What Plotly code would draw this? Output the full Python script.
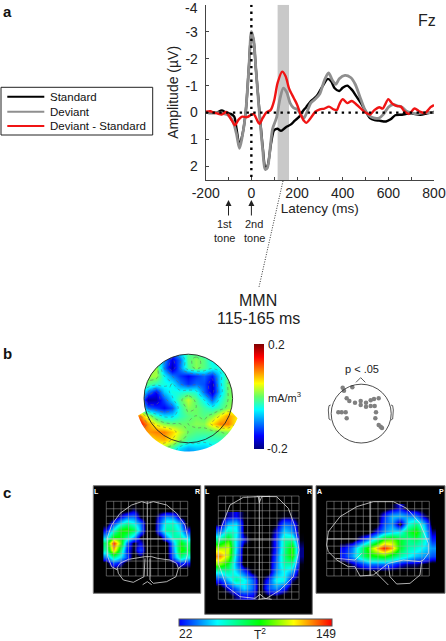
import numpy as np
import plotly.graph_objects as go

FONT = "Liberation Sans"
TXT = "#222222"

# ---------- ERP waveforms ----------
std_lat = [-200,-175,-150,-130,-110,-90,-75,-65,-52,-40,-25,-10,0,10,20,35,50,62,72,85,95,100,115,130,150,175,190,210,225,240,260,285,310,335,350,365,385,400,420,440,460,480,500,520,540,560,590,610,630,660,680,700,740,770,800]
std_amp = [0,0.02,0,-0.08,0,0.05,0.15,0.6,1.2,0.85,0,-1.8,-2.95,-2.65,-1.6,-0.1,1.3,2.1,1.95,1.2,0.75,0.65,0.6,0.68,0.55,0.43,0.3,0.15,-0.05,-0.2,-0.42,-0.6,-0.95,-1.25,-1.15,-0.9,-0.8,-0.92,-1.0,-0.85,-0.6,-0.35,-0.05,0.2,0.28,0.3,0.33,0.25,0.1,0.08,0.05,0.03,0.08,0.03,-0.02]
dev_lat = [-200,-150,-100,-80,-65,-52,-40,-25,-10,0,10,20,35,50,60,70,85,93,110,125,140,155,170,185,200,215,230,245,260,280,300,320,338,355,370,385,410,435,455,475,495,515,535,560,580,600,620,640,660,680,700,720,760,800]
dev_amp = [0,0,0.1,0.35,0.8,1.33,0.9,0,-1.8,-3.0,-2.7,-1.6,0,1.4,2.1,2.05,1.1,0.6,0.2,-0.5,-0.91,-0.75,-0.35,-0.17,-0.13,0.05,0.2,-0.05,-0.35,-0.5,-0.7,-1.2,-1.47,-1.2,-1.05,-1.25,-1.38,-1.3,-1.05,-0.6,-0.15,0.1,0.2,0.2,0.05,-0.2,-0.3,-0.25,-0.2,-0.05,0,0.05,0,0]
dif_lat = [-200,-180,-165,-150,-130,-110,-100,-85,-72,-55,-40,-20,0,10,25,35,50,65,85,100,115,135,150,165,185,200,215,230,240,260,280,300,320,340,360,375,385,400,420,440,460,480,500,520,540,560,575,600,615,635,655,670,690,715,735,760,785,800]
dif_amp = [-0.03,-0.05,0,0.03,0.07,-0.02,0.1,0.3,0.47,0.25,0.15,0.17,0.08,0.05,0.28,0.42,0.2,0,-0.1,-0.45,-1.1,-1.52,-1.35,-0.9,-0.55,-0.3,0.05,0.3,0.38,0.2,-0.03,-0.12,-0.15,-0.22,-0.12,-0.1,-0.3,-0.5,-0.35,-0.43,-0.3,-0.15,0,0.07,-0.1,-0.2,-0.15,-0.5,-0.35,-0.25,-0.22,-0.05,0.05,-0.15,-0.05,0.02,-0.2,-0.28]

x_ticks = [-200,-100,0,100,200,300,400,500,600,700,800]
x_labels = ["-200","","0","","200","","400","","600","","800"]
y_ticks = [-4,-3,-2,-1,0,1,2]
y_labels = ["","-3","-2","-1","0","1","2"]
y_top_label = "-4"
mmn_window = [115, 165]
legend_names = ["Standard","Deviant","Deviant - Standard"]

# ---------- LORETA scalp map (% of 0.2 mA/m3) ----------
topo_x = [140,148,156,164,172,180,188,196,204,212,220,228,236]
topo_y = [351.7,359.7,367.7,375.7,383.7,391.7,399.7,407.7,415.7,423.7,431.7,439.7,447.7,451]
topo_pct = [
 [-25,-25,-25,-40,-60,-25,-10,-10,-20,-25,-25,-20,-20],
 [-15,-15,-20,-45,-80,-55,-5,5,-5,-25,-25,-20,-15],
 [0,0,10,-50,-90,-50,-10,5,-5,-20,-20,-15,-5],
 [5,10,10,-25,-50,-65,-75,-65,-55,-70,-30,-5,5],
 [5,-5,-15,-20,-25,-50,-65,-55,-60,-85,-30,0,5],
 [-10,-50,-75,-35,-20,-20,-15,-20,-55,-85,-35,0,5],
 [-30,-95,-90,-60,-30,-5,15,-5,-25,-55,-20,0,5],
 [-20,-55,-65,-75,-60,-15,5,0,-10,-20,-10,5,10],
 [50,10,-15,-30,-30,-15,-5,0,-5,5,25,45,30],
 [75,45,20,5,0,0,0,5,5,30,50,50,25],
 [50,45,50,50,35,15,0,-5,-5,-5,0,5,0],
 [20,25,35,40,25,5,-10,-15,-20,-15,-15,-10,-10],
 [0,10,15,5,-10,-30,-40,-35,-35,-30,-25,-20,-20],
 [0,5,5,0,-15,-35,-45,-40,-40,-35,-30,-25,-25],
]
topo_z = (np.array(topo_pct) * 0.002).tolist()
topo_range = [-0.2, 0.2]

# significant electrodes (p < .05), positions read in 3x crop coordinates
sig_x = [668,697,672,680,688,705,722,722,738,738,752,762,776,752,764,768,766,776,782,786,655,665,677,680]
sig_y = [158,157,167,190,198,203,198,210,203,215,196,192,190,213,213,232,250,270,275,279,232,232,232,250]

# ---------- Brain T2 maps ----------
cor_x = [106.7,113.3,120,126.7,133.3,140,146.7,153.3,160,166.7,173.3,180,186.7]
cor_y = [503.3,510,516.7,523.3,530,536.7,543.3,550,556.7,563.3,570,576.7]
cor_z = [
 [0,0,0,0,0,0,0,0,0,0,0,0,0],
 [0,0,0,0,10,0,0,0,0,0,0,0,0],
 [0,0,15,28,30,5,0,0,20,35,30,5,0],
 [0,20,45,60,50,30,0,0,30,55,55,35,0],
 [15,50,85,90,75,35,0,0,35,62,62,45,15],
 [40,85,85,65,40,5,0,0,5,35,60,60,40],
 [70,145,95,30,5,15,0,0,0,0,40,85,65],
 [60,125,70,20,5,25,0,0,0,0,35,90,75],
 [30,65,45,25,0,5,0,0,0,0,30,65,50],
 [0,25,15,0,0,0,0,0,0,0,5,20,15],
 [0,0,0,0,0,0,0,0,0,0,0,0,0],
 [0,0,0,0,0,0,0,0,0,0,0,0,0],
]
axi_x = [220,228,236,244,252,260,268,276,284,292,300]
axi_y = [516,524,532,540,548,556,564,572,580,588,596]
axi_z = [
 [0,10,15,5,0,0,0,0,5,5,0],
 [5,40,45,5,0,0,0,5,30,25,0],
 [30,60,50,5,0,0,0,15,45,35,0],
 [65,90,45,15,0,0,0,20,60,65,5],
 [105,110,45,0,0,0,0,20,62,92,10],
 [130,105,40,0,0,0,0,25,65,90,10],
 [100,80,35,0,0,0,0,30,60,60,5],
 [50,60,45,25,5,0,0,35,50,35,0],
 [20,40,62,50,30,0,20,50,50,10,0],
 [0,15,30,45,30,0,25,35,20,0,0],
 [0,0,10,15,15,0,5,5,0,0,0],
]
sag_x = [344,352,360,368,376,384,392,400,408,416,424,432]
sag_y = [508,516,524,532,540,548,556,564,572]
sag_z = [
 [0,0,0,0,0,0,5,15,0,0,0,0],
 [0,0,0,0,0,20,40,40,35,30,10,0],
 [0,0,0,0,0,25,35,0,50,65,40,0],
 [0,0,0,0,15,35,45,50,75,90,50,10],
 [0,0,15,35,60,95,100,80,65,70,55,20],
 [15,30,60,90,120,145,125,80,60,55,45,35],
 [20,35,60,80,85,90,75,60,50,40,35,25],
 [0,10,20,30,30,30,25,15,10,10,5,0],
 [0,0,0,0,0,0,0,0,0,0,0,0],
]
t2_range = [22, 149]

# ---------- colour scales ----------
jet = [[0,"#00007f"],[0.125,"#0000ff"],[0.375,"#00ffff"],[0.5,"#66ff66"],[0.625,"#ffff00"],[0.75,"#ff8000"],[0.875,"#ff0000"],[1,"#7f0000"]]
t2bar = [[0,"#0000ff"],[0.25,"#00ffff"],[0.53,"#00ff00"],[0.75,"#ffff00"],[1,"#ff0000"]]
tz = 149.0
t2heat = [[0,"#000000"],[5/tz,"#000010"],[15/tz,"#0000ff"],[48/tz,"#00ffff"],[85/tz,"#00ff00"],[115/tz,"#ffff00"],[1,"#ff0000"]]

fig = go.Figure()

# ---------- panel a ----------
series = [(legend_names[0],std_lat,std_amp,"#000000",2.4),
          (legend_names[1],dev_lat,dev_amp,"#8f8f8f",2.8),
          (legend_names[2],dif_lat,dif_amp,"#f01414",2.4)]
for name, lx, ly, col, w in series:
    fig.add_trace(go.Scatter(x=lx,y=ly,mode="lines",name=name,showlegend=False,
                             line=dict(color=col,width=w,shape="spline",smoothing=0.8),
                             xaxis="x",yaxis="y"))

# ---------- overlay helpers (px coordinates) ----------
def pxline(xs, ys, color, w, dash=None):
    fig.add_trace(go.Scatter(x=xs,y=ys,mode="lines",showlegend=False,hoverinfo="skip",
                             line=dict(color=color,width=w,dash=dash),xaxis="x2",yaxis="y2"))
def z3(pts, ox, oy):
    xs=[];ys=[]
    for p in pts:
        if p is None:
            xs.append(None);ys.append(None)
        else:
            xs.append(ox+p[0]/3);ys.append(oy+p[1]/3)
    return xs,ys

# ---------- panel b ----------
fig.add_trace(go.Heatmap(x=topo_x,y=topo_y,z=topo_z,zmin=topo_range[0],zmax=topo_range[1],colorscale=jet,
    zsmooth="best",hoverinfo="skip",xaxis="x2",yaxis="y2",showscale=True,
    colorbar=dict(x=254.3/446,xanchor="left",y=1-396.5/641,yanchor="middle",lenmode="pixels",len=105,
                  thickness=10,thicknessmode="pixels",xpad=0,ypad=0,outlinewidth=0,showticklabels=False,ticks="")))
fig.add_trace(go.Contour(x=topo_x,y=topo_y,z=topo_z,showscale=False,hoverinfo="skip",showlegend=False,
    contours=dict(coloring="none",start=-0.15,end=0.15,size=0.05),
    line=dict(color="#666666",width=0.5,dash="dot",smoothing=1),xaxis="x2",yaxis="y2"))

# ---------- panel c heatmaps ----------
for hx,hy,hz in [(cor_x,cor_y,cor_z),(axi_x,axi_y,axi_z),(sag_x,sag_y,sag_z)]:
    fig.add_trace(go.Heatmap(x=hx,y=hy,z=hz,zmin=0,zmax=149,colorscale=t2heat,zsmooth="best",
                             showscale=False,hoverinfo="skip",xaxis="x2",yaxis="y2"))

GRID = "#a8a8a8"
def grid(x0,x1,y0,y1,nx,ny,hx,hy):
    xs=[];ys=[]
    for v in np.linspace(x0,x1,nx):
        xs+= [v,v,None];ys+=[y0,y1,None]
    for v in np.linspace(y0,y1,ny):
        xs+= [x0,x1,None];ys+=[v,v,None]
    pxline(xs,ys,GRID,0.5)
    pxline([hx,hx,None,x0,x1],[y0,y1,None,hy,hy],"#d8d8d8",0.8)

grid(106.3,187.7,501.3,576,12,11,147.3,539)
grid(218.3,299,496,599.3,12,15,259.3,539)
grid(326.7,429.3,501.3,576,15,11,370,539)

OUT = "#dcdcdc"
cor = [(113,170),(125,135),(150,100),(185,75),(215,65),(232,70),(250,65),(290,75),(320,100),(345,135),(352,170),(352,225),(345,250),(325,265),None,
       (113,170),(113,230),(125,260),(142,270),None,
       (142,262),(150,250),(175,238),(215,232),(225,230),(245,230),(262,235),(300,240),(320,250),(325,265),(318,290),(290,305),(250,310),(240,300),(240,235),None,
       (225,235),(222,290),(190,307),(160,300),(145,280),(142,262),None,(218,314),(232,305),(245,314)]
x_,y_=z3(cor,70,480); pxline(x_,y_,OUT,0.8)
axl = [(568,68),(575,50),(600,49),None,(568,68),(565,50),(520,52),(480,75),(455,140),(445,200),(445,250),(470,320),(510,350),(555,355),(570,343),(585,355),(605,358)]
x_,y_=z3(axl,70,480); pxline(x_,y_,OUT,0.8)
axr = [(-10,49),(50,50),(85,85),(105,140),(117,210),(100,290),(60,330),(20,355),(-5,358)]
x_,y_=z3(axr,260,480); pxline(x_,y_,OUT,0.8)
sag = [(200,195),(205,155),(240,110),(290,80),(340,65),(400,65),(440,85),(480,130),(505,190),(505,220),(490,240),(480,245),(430,240),(385,250),(340,285),(300,288),(285,260),(265,260),(230,240),(205,215),(200,195),None,
       (385,255),(390,290),(410,312),(450,310),(480,285),(485,245),None,(340,270),(360,290),(385,315),None,(228,235),(285,240),(305,220)]
x_,y_=z3(sag,260,480); pxline(x_,y_,OUT,0.8)

# head decorations, panel b
nose = [(183,58),(205,33),(228,58)]
earL = [(72,158),(63,160),(59,175),(60,205),(65,225),(72,228)]
earR = [(338,158),(347,160),(351,175),(350,205),(345,225),(338,228)]
for part in (nose,earL,earR):
    x_,y_=z3(part,120,335); pxline(x_,y_,"#333333",0.8)
nose2 = [(708,142),(722,128),(736,142)]
ear2L = [(632,210),(627,212),(625,225),(627,252),(632,255)]
ear2R = [(813,210),(818,212),(820,225),(818,252),(813,255)]
for part in (nose2,ear2L,ear2R):
    x_,y_=z3(part,120,335); pxline(x_,y_,"#333333",0.8)
fig.add_trace(go.Scatter(x=[120+v/3 for v in sig_x],y=[335+v/3 for v in sig_y],mode="markers",showlegend=False,
                         hoverinfo="skip",marker=dict(color="#808080",size=4.5),xaxis="x2",yaxis="y2"))

# dotted leader to MMN
pxline([283,259],[181,287],"#333333",1,"1px,1.5px")

# legend samples
leg_y = [96.7,111.7,126]
for (name,lx,ly,col,w),yy in zip(series,leg_y):
    pxline([7.3,44.3],[yy,yy],col,2)

# T2 colourbar
fig.add_trace(go.Scatter(x=[None,None],y=[None,None],mode="markers",showlegend=False,hoverinfo="skip",xaxis="x2",yaxis="y2",
    marker=dict(color=t2_range,cmin=t2_range[0],cmax=t2_range[1],colorscale=t2bar,showscale=True,
        colorbar=dict(orientation="h",x=179.3/446,xanchor="left",y=1-627/641,yanchor="bottom",lenmode="pixels",len=153.4,
                      thickness=7,thicknessmode="pixels",xpad=0,ypad=0,outlinewidth=1,outlinecolor="#555555",
                      showticklabels=False,ticks=""))))

# ---------- shapes ----------
def rect(x0,y0,x1,y1):
    return dict(type="rect",xref="x2",yref="y2",x0=x0,y0=y0,x1=x1,y1=y1,fillcolor="#000000",
                line=dict(color="#777777",width=1),layer="below")
shapes = [dict(type="rect",xref="x",yref="y",x0=mmn_window[0],x1=mmn_window[1],y0=-4,y1=2.5,
               fillcolor="#c9c9c9",line=dict(width=0),layer="below"),
          dict(type="line",xref="x",yref="y",x0=-200,x1=800,y0=0,y1=0,line=dict(color="#000",width=2.4,dash="2.4px,4.4px"),layer="above"),
          dict(type="line",xref="x",yref="y",x0=0,x1=0,y0=-4,y1=2.5,line=dict(color="#000",width=2.4,dash="2.4px,4.4px"),layer="above"),
          dict(type="rect",xref="x2",yref="y2",x0=1,x1=152.7,y0=87.3,y1=135,fillcolor="rgba(0,0,0,0)",line=dict(color="#222222",width=1),layer="below"),
          rect(93.3,485.7,200.7,593.3),rect(204.7,485.7,312.3,614.3),rect(316,485.7,445,593.3)]

# white mask giving the scalp map its outline
cx,cy,r,R = 188.3,398.5,44.3,53
a0 = np.arcsin((411-cy)/r)
top = np.linspace(np.pi-a0, 2*np.pi+a0, 50)
top_pts = [(cx+r*np.cos(t),cy+r*np.sin(t)) for t in top]
b0 = np.arctan2(418-cy, 237-cx); b1 = np.arctan2(415-cy, 140-cx)
bot = np.linspace(b0,b1,30)
bot_pts = [(cx+R*np.cos(t),cy+R*np.sin(t)) for t in bot]
pts = top_pts+bot_pts
path = "M 132 345 L 252 345 L 252 454 L 132 454 Z M "+" L ".join(f"{a:.1f} {b:.1f}" for a,b in pts)+" Z"
shapes.append(dict(type="path",xref="x2",yref="y2",path=path,fillcolor="#ffffff",line=dict(width=0),fillrule="evenodd",layer="above"))
shapes.append(dict(type="circle",xref="x2",yref="y2",x0=cx-r,x1=cx+r,y0=cy-r,y1=cy+r,line=dict(color="#222222",width=0.9),layer="above"))
shapes.append(dict(type="circle",xref="x2",yref="y2",x0=361.2-30,x1=361.2+30,y0=413.6-29.4,y1=413.6+29.4,line=dict(color="#222222",width=0.8),layer="above"))

# ---------- text ----------
def T(x,y,s,size=12,anchor="center",color=TXT,bold=False):
    return dict(xref="x2",yref="y2",x=x,y=y,text=("<b>%s</b>"%s if bold else s),showarrow=False,xanchor=anchor,yanchor="middle",
                font=dict(family=FONT,size=size,color=color),borderpad=0)
ann = [T(2,11.5,"a",15,"left","#111",True),T(2,353,"b",15,"left","#111",True),T(2,492.5,"c",15,"left","#111",True),
       T(437,20,"Fz",16,"right"),T(198.5,7.5,y_top_label,14,"right"),
       T(224,224,"1st",11),T(224,237.7,"tone",11),T(254,224,"2nd",11),T(254,237.7,"tone",11),
       T(258,300,"MMN",16),T(258,318.5,"115-165 ms",16),
       T(267,345,"0.2",12,"left"),T(267,397,"mA/m<sup>3</sup>",11,"left"),T(265.5,449,"-0.2",12,"left"),
       T(361.7,369,"p &lt; .05",11),
       T(186,634,"22",12),T(260,634,"T<sup>2</sup>",12),T(326,634,"149",12),
       T(96,491,"L",7,"center","#fff",True),T(197.5,491,"R",7,"center","#fff",True),
       T(207.5,491,"L",7,"center","#fff",True),T(309,491,"R",7,"center","#fff",True),
       T(319.5,491,"A",7,"center","#fff",True),T(441,491,"P",7,"center","#fff",True)]
for nm,yy in zip(legend_names,leg_y):
    ann.append(T(49,yy,nm,11.5,"left","#111"))
for ax in (228.5,251.4):
    ann.append(dict(xref="x2",yref="y2",axref="x2",ayref="y2",x=ax,y=200,ax=ax,ay=217,text="",showarrow=True,
                    arrowhead=2,arrowsize=1.2,arrowwidth=1,arrowcolor="#222"))

fig.update_layout(
    width=446,height=641,margin=dict(l=0,r=0,t=0,b=0,autoexpand=False),
    paper_bgcolor="#ffffff",plot_bgcolor="rgba(0,0,0,0)",showlegend=False,
    font=dict(family=FONT,color=TXT),
    shapes=shapes,annotations=ann,
    xaxis=dict(domain=[205.7/446,434/446],range=[-200,800],tickvals=x_ticks,ticktext=x_labels,ticks="inside",ticklen=3,
               tickcolor="#444",linecolor="#444",linewidth=1,showgrid=False,zeroline=False,tickangle=0,
               tickfont=dict(size=14,color=TXT),title=dict(text="Latency (ms)",font=dict(size=13.5,color=TXT),standoff=2),anchor="y"),
    yaxis=dict(domain=[1-180/641,1-4.7/641],range=[2.5,-4],tickvals=y_ticks,ticktext=y_labels,ticks="inside",ticklen=3,
               ticklabelstandoff=4,
               tickcolor="#444",linecolor="#444",linewidth=1,showgrid=False,zeroline=False,
               tickfont=dict(size=14,color=TXT),title=dict(text="Amplitude (µV)",font=dict(size=14,color=TXT),standoff=3),anchor="x"),
    xaxis2=dict(domain=[0,1],range=[0,446],visible=False,fixedrange=True,anchor="y2"),
    yaxis2=dict(domain=[0,1],range=[641,0],visible=False,fixedrange=True,anchor="x2"),
)
fig.write_html("out.html", config={"displayModeBar":False},
               post_script="document.body.style.margin='0';document.documentElement.style.overflow='hidden';")
